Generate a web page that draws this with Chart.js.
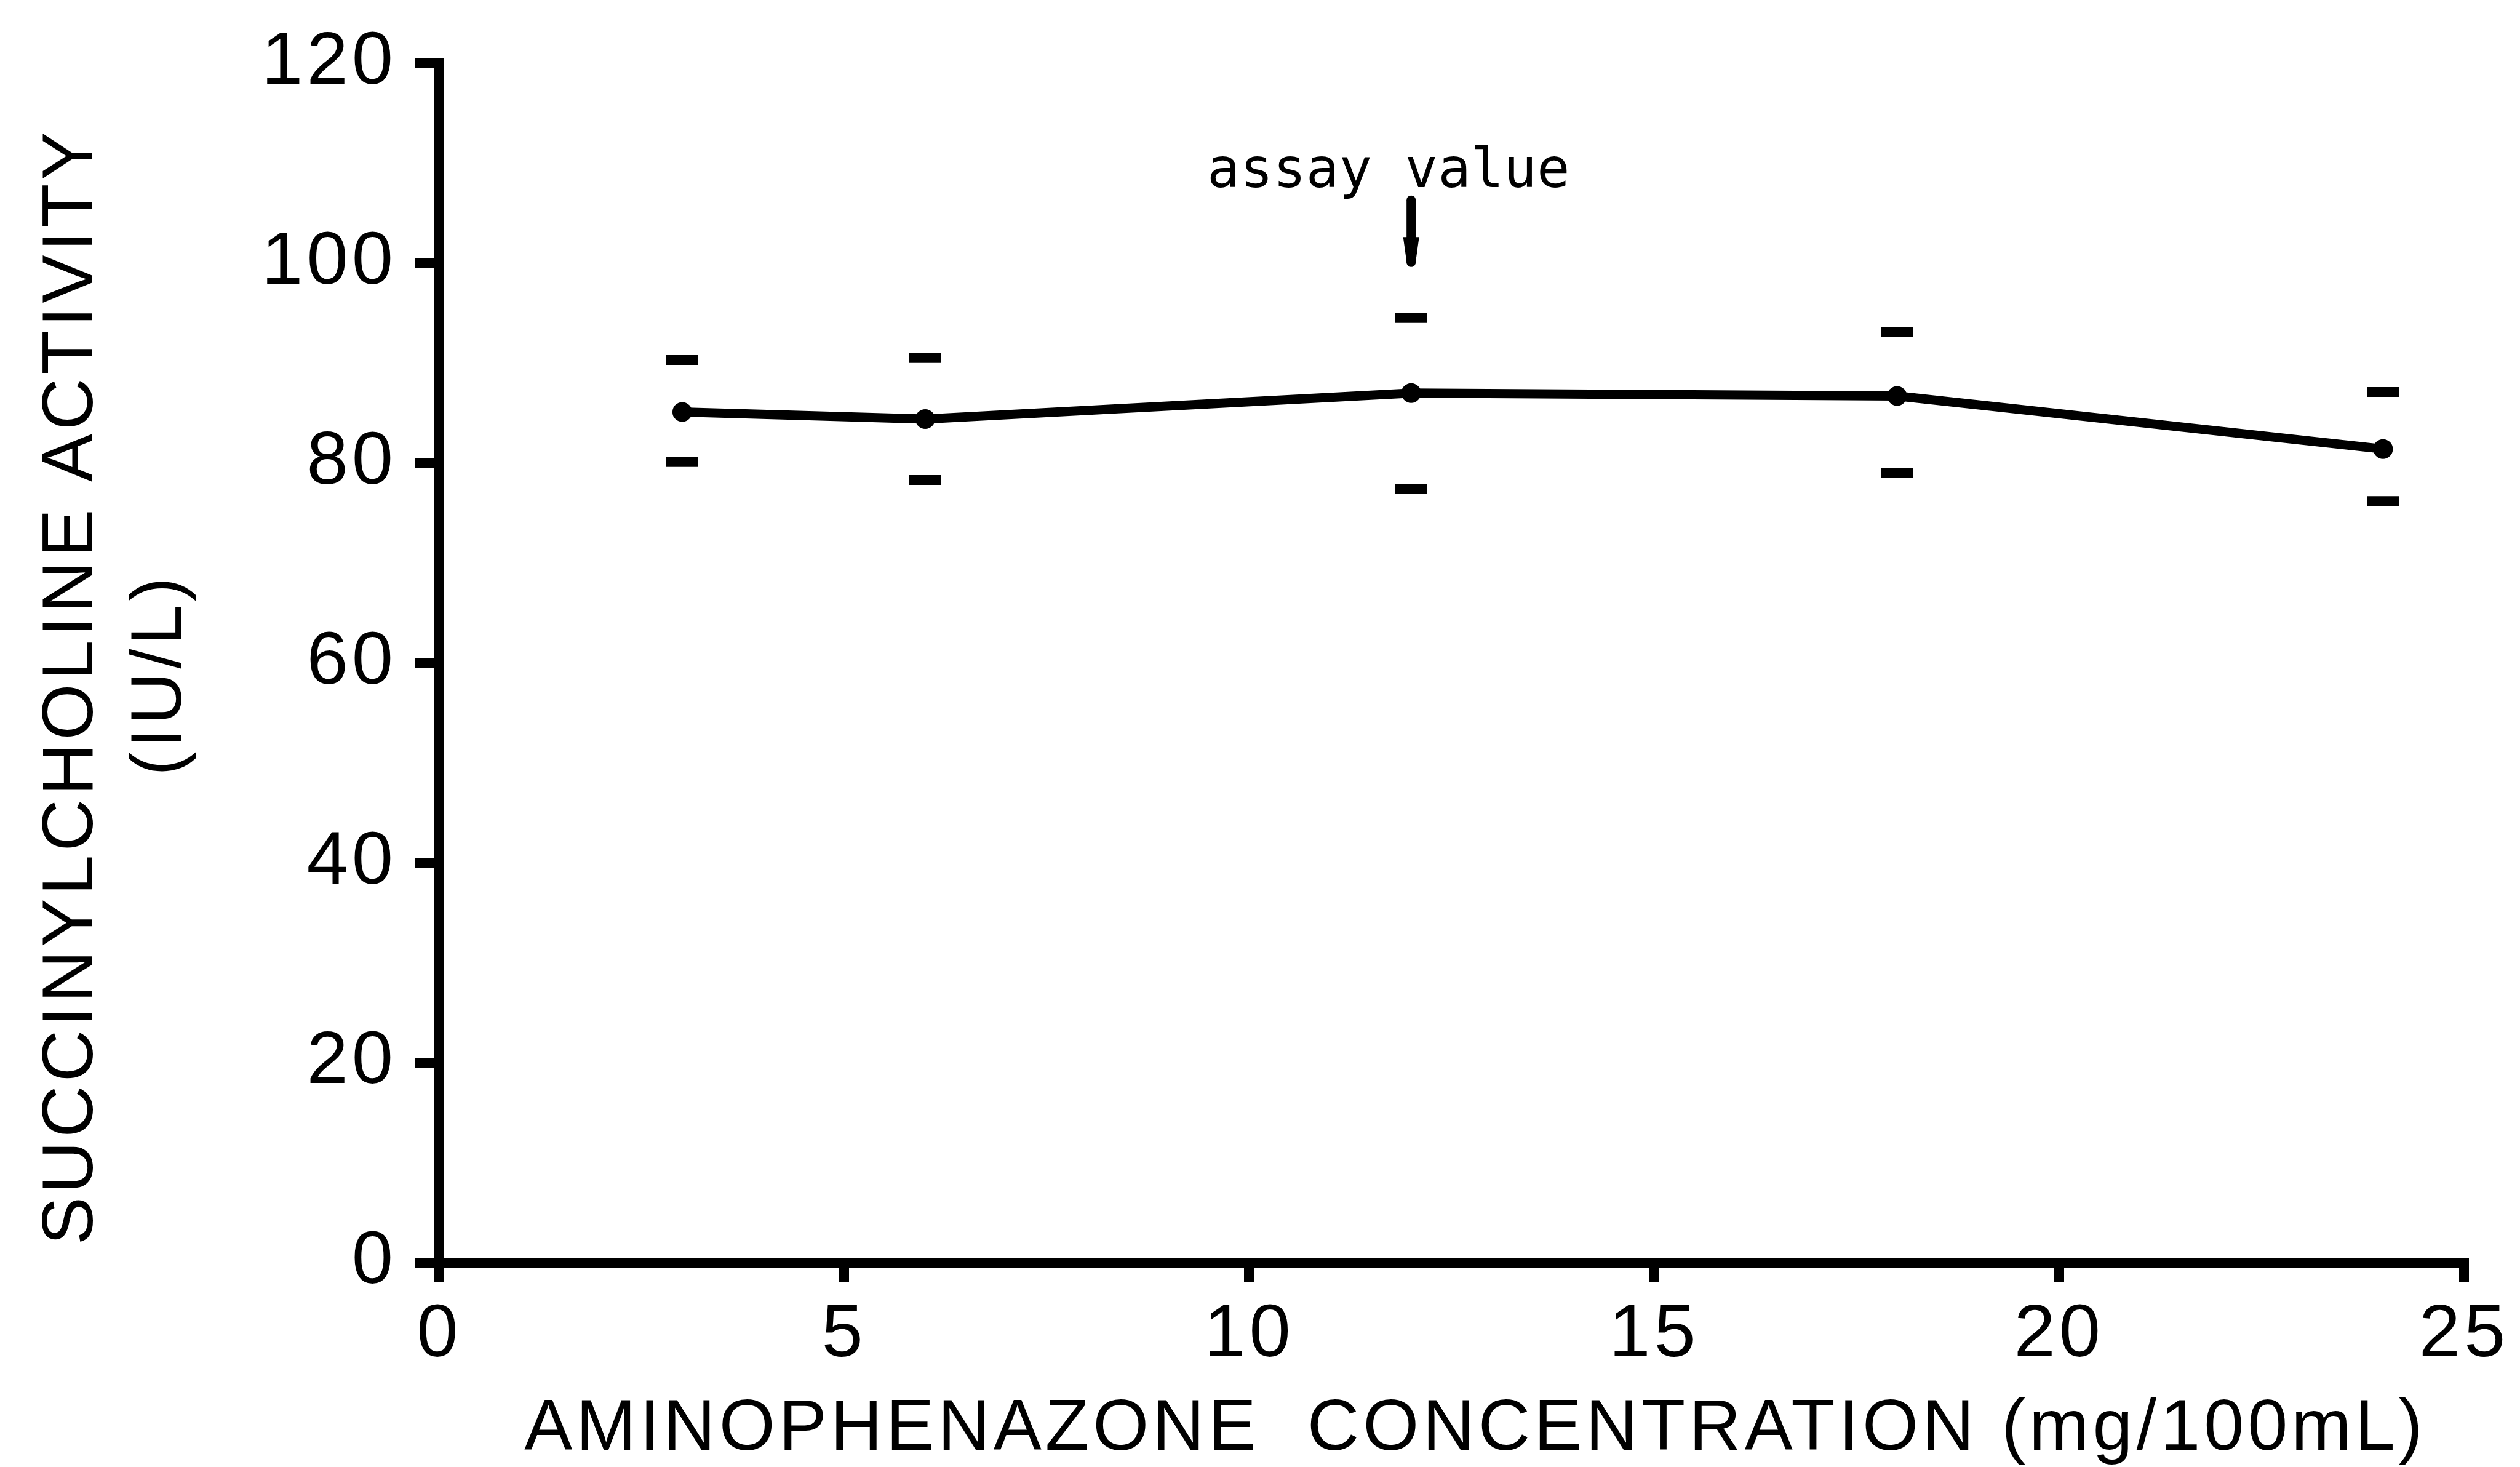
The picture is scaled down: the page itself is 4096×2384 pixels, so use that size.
<!DOCTYPE html>
<html>
<head>
<meta charset="utf-8">
<script src="https://cdn.jsdelivr.net/npm/chart.js@4.4.1/dist/chart.umd.min.js"></script>
<style>
  html, body { margin: 0; padding: 0; background: #ffffff; }
  #wrap { width: 4096px; height: 2384px; }
  canvas { display: block; }
</style>
</head>
<body>
<div id="wrap"><canvas id="c" width="4096" height="2384"></canvas></div>
<script>
// ---- data ----
const concentration = [3, 6, 12, 18, 24];            // mg/100mL
const activity      = [85.1, 84.4, 87.0, 86.7, 81.4]; // IU/L (mean)
const upperLimit    = [90.3, 90.5, 94.5, 93.1, 87.1]; // upper dash
const lowerLimit    = [80.1, 78.3, 77.4, 79.0, 76.2]; // lower dash
const xTickValues   = [0, 5, 10, 15, 20, 25];
const yTickValues   = [0, 20, 40, 60, 80, 100, 120];
const xTitle = '  AMINOPHENAZONE  CONCENTRATION (mg/100mL)';
const yTitle = ['SUCCINYLCHOLINE ACTIVITY  ', '(IU/L) '];
const assayLabel = 'assay value';
const assayX = 12;            // concentration marked by the arrow
const assayArrowTop = 106.3;  // arrow in data units
const assayArrowHead = 102.6;
const assayArrowTip = 99.7;
const assayLabelX = 11.72;
const assayLabelY = 107.6;

const toPoints = (ys) => concentration.map((x, i) => ({ x: x, y: ys[i] }));

const INK = '#000000';
const tickFont = { family: '"Liberation Sans", Arial, sans-serif', size: 121, weight: 'normal', lineHeight: 1.2 };
const titleFont = { family: '"Liberation Sans", Arial, sans-serif', size: 117, weight: 'normal', lineHeight: 1.0 };
const yTitleFont = { family: '"Liberation Sans", Arial, sans-serif', size: 117, weight: 'normal', lineHeight: 1.23 };

const bgPlugin = {
  id: 'bg',
  beforeDraw(chart) {
    const ctx = chart.ctx;
    ctx.save();
    ctx.fillStyle = '#ffffff';
    ctx.fillRect(0, 0, chart.width, chart.height);
    ctx.restore();
    ctx.letterSpacing = '6px';
  }
};

const assayPlugin = {
  id: 'assay',
  afterDatasetsDraw(chart) {
    const ctx = chart.ctx;
    const xs = chart.scales.x, ys = chart.scales.y;
    const px = xs.getPixelForValue(assayX);
    const yTop = ys.getPixelForValue(assayArrowTop);
    const yHead = ys.getPixelForValue(assayArrowHead);
    const yTip = ys.getPixelForValue(assayArrowTip);
    ctx.save();
    ctx.letterSpacing = '0px';
    ctx.strokeStyle = INK;
    ctx.fillStyle = INK;
    ctx.lineWidth = 15;
    ctx.lineCap = 'round';
    ctx.beginPath();
    ctx.moveTo(px, yTop);
    ctx.lineTo(px, yTip - 6);
    ctx.stroke();
    ctx.beginPath();
    ctx.moveTo(px - 13, yHead);
    ctx.lineTo(px + 13, yHead);
    ctx.lineTo(px + 11, yHead + 14);
    ctx.lineTo(px + 7, yTip - 4);
    ctx.lineTo(px, yTip);
    ctx.lineTo(px - 7, yTip - 4);
    ctx.lineTo(px - 11, yHead + 14);
    ctx.closePath();
    ctx.fill();
    ctx.font = 'normal 89px "DejaVu Sans Mono", monospace';
    ctx.textAlign = 'center';
    ctx.textBaseline = 'alphabetic';
    ctx.fillText(assayLabel, xs.getPixelForValue(assayLabelX), ys.getPixelForValue(assayLabelY));
    ctx.restore();
  }
};

const axisCommon = (tickLength, padding) => ({
  grid: { display: true, drawOnChartArea: false, drawTicks: true, tickLength: tickLength,
          lineWidth: 16, tickWidth: 16, color: INK, tickColor: INK },
  border: { display: true, color: INK, width: 16 },
  ticks: { color: INK, font: tickFont, padding: padding }
});

const xAxis = axisCommon(32, 14);
const yAxis = axisCommon(39, 30);

new Chart(document.getElementById('c'), {
  type: 'scatter',
  data: {
    datasets: [
      {
        label: 'Succinylcholine activity',
        data: toPoints(activity),
        showLine: true,
        borderColor: INK,
        backgroundColor: INK,
        borderWidth: 15,
        tension: 0,
        pointRadius: 16,
        pointBackgroundColor: INK,
        pointBorderColor: INK,
        pointBorderWidth: 0,
        order: 1
      },
      {
        label: 'Upper',
        data: toPoints(upperLimit),
        showLine: false,
        pointStyle: 'line',
        pointRadius: 26,
        pointBorderWidth: 16,
        pointBorderColor: INK,
        borderColor: INK,
        order: 2
      },
      {
        label: 'Lower',
        data: toPoints(lowerLimit),
        showLine: false,
        pointStyle: 'line',
        pointRadius: 26,
        pointBorderWidth: 16,
        pointBorderColor: INK,
        borderColor: INK,
        order: 3
      }
    ]
  },
  options: {
    responsive: false,
    animation: false,
    devicePixelRatio: 1,
    events: [],
    layout: { padding: { left: 0, right: 91, top: 101, bottom: 0 } },
    plugins: { legend: { display: false }, tooltip: { enabled: false } },
    scales: {
      x: {
        type: 'linear',
        position: 'bottom',
        min: 0, max: 25,
        afterBuildTicks(scale) { scale.ticks = xTickValues.map(v => ({ value: v })); },
        afterFit(scale) { scale.height = 332; },
        grid: xAxis.grid, border: xAxis.border,
        ticks: Object.assign({}, xAxis.ticks, { maxRotation: 0, autoSkip: false }),
        title: { display: true, text: xTitle, color: INK, font: titleFont, padding: { top: 0, bottom: 2 } }
      },
      y: {
        type: 'linear',
        position: 'left',
        min: 0, max: 120,
        afterBuildTicks(scale) { scale.ticks = yTickValues.map(v => ({ value: v })); },
        afterFit(scale) { scale.width = 714; },
        grid: yAxis.grid, border: yAxis.border,
        ticks: Object.assign({}, yAxis.ticks, { autoSkip: false }),
        title: { display: true, text: yTitle, color: INK, font: yTitleFont, padding: { top: 46, bottom: 0 } }
      }
    }
  },
  plugins: [bgPlugin, assayPlugin]
});
</script>
</body>
</html>
